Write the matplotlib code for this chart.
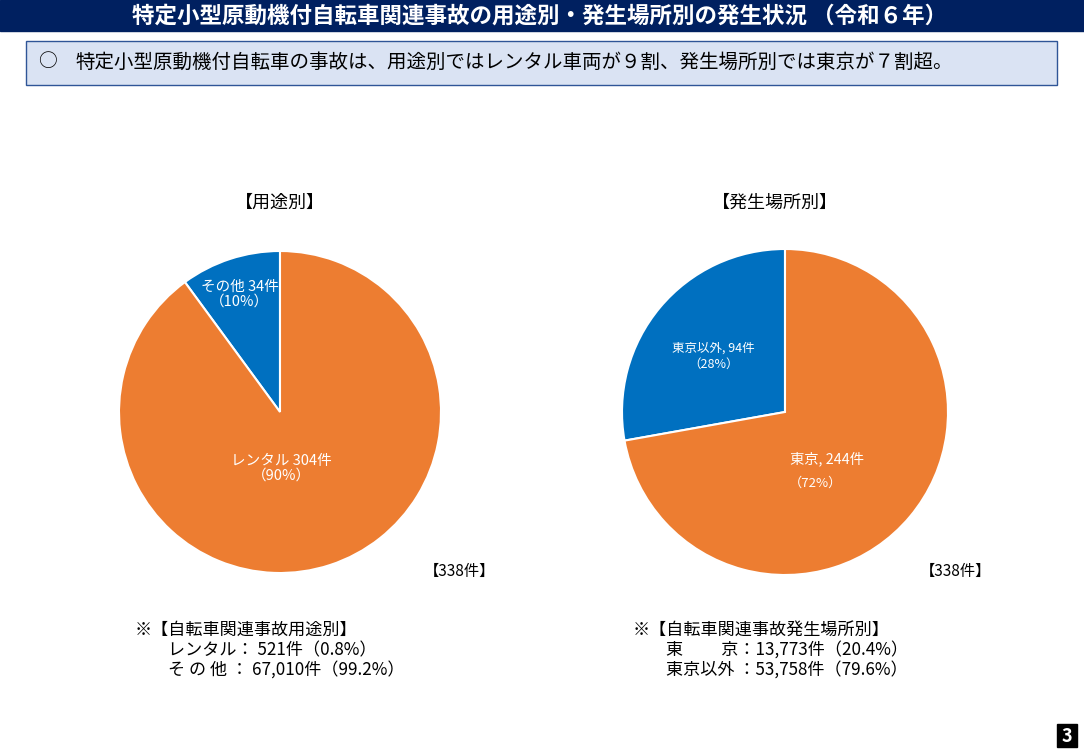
import matplotlib
matplotlib.use('Agg')
import matplotlib.pyplot as plt
from matplotlib.patches import Rectangle

plt.rcParams['font.family'] = ['Noto Sans CJK JP', 'DejaVu Sans']

# データ
title = '特定小型原動機付自転車関連事故の用途別・発生場所別の発生状況 （令和６年）'
summary = '特定小型原動機付自転車の事故は、用途別ではレンタル車両が９割、発生場所別では東京が７割超。'

usage_labels = ['その他', 'レンタル']
usage_counts = [34, 304]
place_labels = ['東京以外', '東京']
place_counts = [94, 244]
total_label = '【338件】'

note_usage = ['※【自転車関連事故用途別】',
              'レンタル： 521件（0.8%）',
              'そ の 他 ： 67,010件（99.2%）']
note_place = ['※【自転車関連事故発生場所別】',
              '東　　 京：13,773件（20.4%）',
              '東京以外 ：53,758件（79.6%）']

blue = '#0070C0'
orange = '#ED7D31'

W, H = 1084, 750
fig = plt.figure(figsize=(W / 100, H / 100), dpi=100)

# 背景用の全体座標 (ピクセル)
bg = fig.add_axes([0, 0, 1, 1])
bg.set_xlim(0, W)
bg.set_ylim(H, 0)
bg.axis('off')

bg.add_patch(Rectangle((0, 0), W, 31, color='#002060'))
bg.text(540, 16, title, color='white', fontsize=16.2, fontweight='bold',
        ha='center', va='center')

bg.add_patch(Rectangle((26, 41), 1031, 44, facecolor='#DAE3F3',
                       edgecolor='#2F5597', linewidth=1))
bg.text(38, 62, '○', fontsize=13.5, va='center')
bg.text(75, 62, summary, fontsize=14, va='center')

bg.text(280, 203, '【用途別】', fontsize=13, ha='center', va='center')
bg.text(775, 203, '【発生場所別】', fontsize=13, ha='center', va='center')
bg.text(460, 571, total_label, fontsize=11, ha='center', va='center')
bg.text(955, 571, total_label, fontsize=11, ha='center', va='center')

for i, line in enumerate(note_usage):
    x = 135 if i == 0 else 168
    bg.text(x, 630 + i * 20.5, line, fontsize=12.3, va='center')
for i, line in enumerate(note_place):
    x = 633 if i == 0 else 666
    bg.text(x, 630 + i * 20.5, line, fontsize=12.3, va='center')

bg.add_patch(Rectangle((1057, 724), 20, 23, color='black'))
bg.text(1067, 736, '3', color='white', fontsize=13, fontweight='bold',
        ha='center', va='center')


def pie_axes(cx, cy, r):
    ax = fig.add_axes([(cx - r) / W, (H - cy - r) / H, 2 * r / W, 2 * r / H])
    return ax


def finish(ax):
    ax.set_xlim(-1, 1)
    ax.set_ylim(-1, 1)
    ax.axis('off')


# 用途別
ax1 = pie_axes(280, 412, 161)
ax1.pie(usage_counts, colors=[blue, orange], startangle=90, counterclock=True,
        radius=1, wedgeprops=dict(edgecolor='white', linewidth=1.5))
finish(ax1)
total1 = sum(usage_counts)
ax1.text(-0.25, 0.73, f'{usage_labels[0]} {usage_counts[0]}件\n（{usage_counts[0] / total1:.0%}）',
         color='white', fontsize=10.5, ha='center', va='center', linespacing=1.1)
ax1.text(0.01, -0.35, f'{usage_labels[1]} {usage_counts[1]}件\n（{usage_counts[1] / total1:.0%}）',
         color='white', fontsize=10.5, ha='center', va='center', linespacing=1.1)

# 発生場所別
ax2 = pie_axes(785, 412, 163)
ax2.pie(place_counts, colors=[blue, orange], startangle=90, counterclock=True,
        radius=1, wedgeprops=dict(edgecolor='white', linewidth=1.5))
finish(ax2)
total2 = sum(place_counts)
ax2.text(-0.44, 0.34, f'{place_labels[0]}, {place_counts[0]}件\n（{place_counts[0] / total2:.0%}）',
         color='white', fontsize=9, ha='center', va='center', linespacing=1.3)
ax2.text(0.26, -0.29, f'{place_labels[1]}, {place_counts[1]}件',
         color='white', fontsize=10.3, ha='center', va='center')
ax2.text(0.19, -0.44, f'（{place_counts[1] / total2:.0%}）',
         color='white', fontsize=9.5, ha='center', va='center')

fig.savefig('out.png', dpi=100)
